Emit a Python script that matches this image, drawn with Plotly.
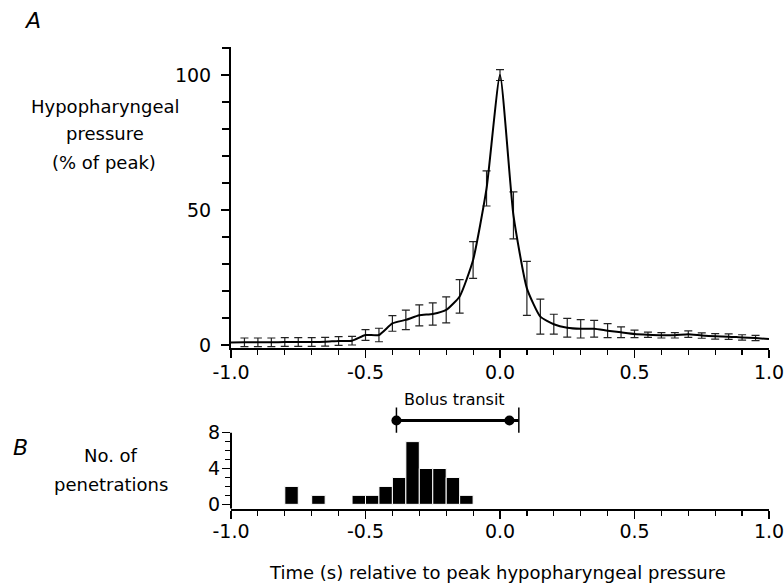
import plotly.graph_objects as go

# ---- Panel A data: hypopharyngeal pressure (% of peak) ----
time_pts = [-0.95, -0.90, -0.85, -0.80, -0.75, -0.70, -0.65, -0.60, -0.55, -0.50,
            -0.45, -0.40, -0.35, -0.30, -0.25, -0.20, -0.15, -0.10, -0.05, 0.00,
            0.05, 0.10, 0.15, 0.20, 0.25, 0.30, 0.35, 0.40, 0.45, 0.50,
            0.55, 0.60, 0.65, 0.70, 0.75, 0.80, 0.85, 0.90, 0.95]
pressure_mean = [1.0, 1.0, 1.0, 1.1, 1.1, 1.1, 1.2, 1.5, 1.6, 3.7,
                 3.7, 8.0, 9.3, 11.0, 11.5, 13.0, 18.0, 31.5, 58.0, 100.0,
                 48.0, 21.0, 10.5, 7.7, 6.4, 6.0, 6.0, 5.3, 4.7, 4.1,
                 3.8, 3.6, 3.6, 4.0, 3.5, 3.2, 3.1, 2.8, 2.6]
pressure_err = [1.6, 1.6, 1.6, 1.6, 1.6, 1.6, 1.6, 1.6, 1.6, 2.0,
                2.5, 2.9, 3.6, 3.9, 4.1, 4.8, 6.2, 6.8, 6.5, 2.0,
                8.7, 10.0, 6.5, 3.7, 3.5, 3.4, 3.1, 2.6, 2.0, 1.4,
                1.0, 1.0, 1.0, 1.2, 1.0, 1.0, 1.0, 1.0, 1.0]
line_time = [-1.0] + time_pts + [1.0]
line_mean = [0.9] + pressure_mean + [2.2]

# ---- Panel B data: histogram of penetrations (0.05 s bins) ----
bin_centers = [-0.775, -0.675, -0.525, -0.475, -0.425, -0.375, -0.325, -0.275, -0.225, -0.175, -0.125]
penetrations = [2, 1, 1, 1, 2, 3, 7, 4, 4, 3, 1]

# Bolus transit
bolus_start = -0.385
bolus_end_mean = 0.035
bolus_end_sd = 0.07
bolus_level = 9.35

FONT = "DejaVu Sans, Arial, sans-serif"
W, H = 784, 587
L, R = 231, 15
PW = W - L - R


def px_x(px):
    return (px - L) / PW


def px_y(py):
    return 1 - py / H


fig = go.Figure()

fig.add_trace(go.Scatter(
    x=time_pts, y=pressure_mean, mode="markers",
    marker=dict(size=1, color="rgba(0,0,0,0)"),
    error_y=dict(type="data", array=pressure_err, visible=True,
                 color="#222222", thickness=1.2, width=4),
    xaxis="x", yaxis="y", showlegend=False, hoverinfo="skip"))
fig.add_trace(go.Scatter(
    x=line_time, y=line_mean, mode="lines",
    line=dict(color="black", width=2, shape="spline", smoothing=0.5),
    xaxis="x", yaxis="y", showlegend=False))

fig.add_trace(go.Bar(
    x=bin_centers, y=penetrations, width=0.05,
    marker=dict(color="black", line=dict(color="white", width=1)),
    xaxis="x2", yaxis="y2", showlegend=False))

# bolus transit bar
fig.add_trace(go.Scatter(
    x=[bolus_start, bolus_end_sd], y=[bolus_level, bolus_level], mode="lines",
    line=dict(color="black", width=3), xaxis="x2", yaxis="y2", showlegend=False))
fig.add_trace(go.Scatter(
    x=[bolus_start, bolus_end_mean], y=[bolus_level, bolus_level], mode="markers",
    marker=dict(color="black", size=10), xaxis="x2", yaxis="y2", showlegend=False))
for xv in [bolus_start, bolus_end_sd]:
    fig.add_trace(go.Scatter(
        x=[xv, xv], y=[8.0, 10.8], mode="lines",
        line=dict(color="black", width=1.5), xaxis="x2", yaxis="y2", showlegend=False))

tickfont = dict(family=FONT, size=19, color="black")
xticks = [-1.0, -0.5, 0.0, 0.5, 1.0]
xtext = ["-1.0", "-0.5", "0.0", "0.5", "1.0"]

common_x = dict(range=[-1.0, 1.0], tickvals=xticks, ticktext=xtext, ticks="outside",
                ticklen=8, tickwidth=1.5, tickcolor="black", showline=True, linecolor="black",
                linewidth=2, showgrid=False, zeroline=False, tickfont=tickfont,
                ticklabeloverflow="allow",
                minor=dict(dtick=0.1, tick0=0, ticks="outside", ticklen=5, tickwidth=1.2,
                           tickcolor="black", showgrid=False))

fig.update_layout(
    width=W, height=H, autosize=False,
    margin=dict(l=L, r=R, t=0, b=0, autoexpand=False),
    paper_bgcolor="white", plot_bgcolor="white",
    xaxis=dict(domain=[0, 1], anchor="y", ticklabelstandoff=-2, **common_x),
    yaxis=dict(domain=[0.4072, 0.9199], range=[-1.1, 110.4], tickvals=[0, 50, 100],
               ticks="outside", ticklen=8, tickwidth=1.5, tickcolor="black",
               showline=True, linecolor="black", linewidth=2, showgrid=False,
               zeroline=False, tickfont=tickfont, ticklabelstandoff=6,
               minor=dict(tickvals=[10, 20, 30, 40, 60, 70, 80, 90, 110], ticks="outside",
                          ticklen=7, tickwidth=1.2, tickcolor="black", showgrid=False)),
    xaxis2=dict(domain=[0, 1], anchor="y2", ticklabelstandoff=-4, **common_x),
    yaxis2=dict(domain=[0.1332, 0.3087], range=[-0.5, 11], tickvals=[0, 4, 8],
                ticks="outside", ticklen=8, tickwidth=1.5, tickcolor="black",
                showline=False, showgrid=False, zeroline=False, tickfont=tickfont,
                ticklabelstandoff=-2,
                minor=dict(tickvals=[1, 2, 3, 5, 6, 7], ticks="outside", ticklen=5,
                           tickwidth=1.2, tickcolor="black", showgrid=False)),
    bargap=0,
    shapes=[dict(type="line", xref="x2 domain", yref="y2", x0=0, x1=0, y0=-0.5, y1=8,
                 line=dict(color="black", width=2))],
)

ann_font = dict(family=FONT, size=18, color="black")


def label(text, px, py, font=ann_font):
    fig.add_annotation(text=text, xref="paper", yref="paper", x=px_x(px), y=px_y(py),
                       xanchor="center", yanchor="middle", showarrow=False, font=font)


label("Hypopharyngeal", 105, 106)
label("pressure", 105, 134)
label("(% of peak)", 104, 162)
label("No. of", 111, 455)
label("penetrations", 111, 484)
label("<i>A</i>", 32, 20, dict(family=FONT, size=22, color="black"))
label("<i>B</i>", 20, 447, dict(family=FONT, size=22, color="black"))
label("Time (s) relative to peak hypopharyngeal pressure", 497, 572)
label("Bolus transit", 454, 399, dict(family=FONT, size=16, color="black"))

fig.write_html("out.html",
               config={"responsive": False, "displayModeBar": False, "staticPlot": True},
               post_script="document.body.style.margin='0px';")
